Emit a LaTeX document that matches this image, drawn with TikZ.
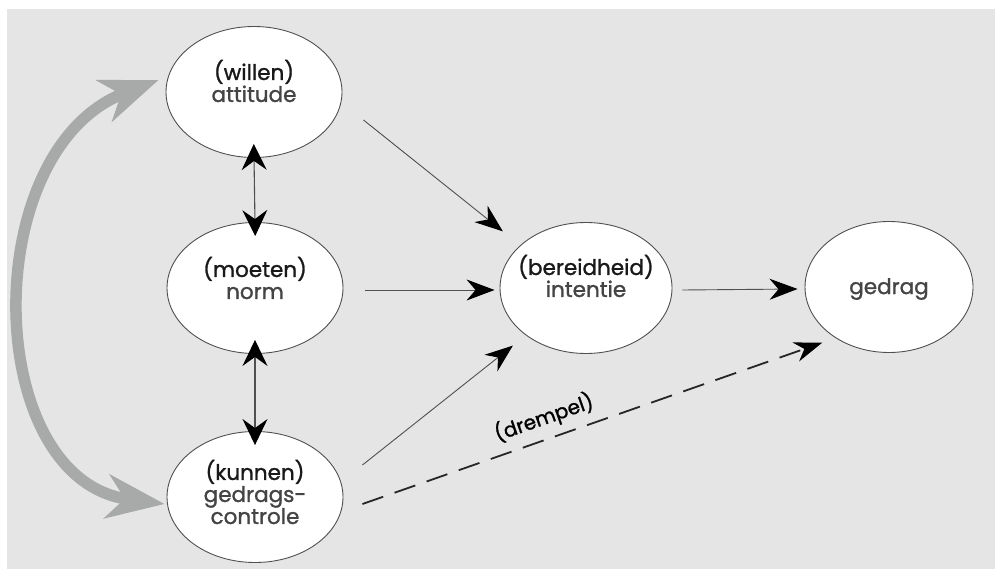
\documentclass[tikz,border=0pt]{standalone}
\usepackage{fontspec}
\setmainfont{Poppins}[FakeBold=1.2]
\usetikzlibrary{arrows.meta,shapes.geometric,calc}
\definecolor{bg}{HTML}{E4E5E4}
\definecolor{ln}{HTML}{505050}
\definecolor{sub}{HTML}{444444}
\definecolor{big}{HTML}{A8A9A9}
\begin{document}
\begin{tikzpicture}[x=1pt,y=-1pt,
  ell/.style={ellipse,draw=ln,line width=0.9pt,fill=white,minimum width=#1,minimum height=131pt,inner sep=0pt},
  ell/.default=176pt,
  lbl/.style={align=center,font=\fontsize{21.5}{22}\selectfont,text=black!90},
  conn/.style={draw=ln,line width=0.9pt,-{Stealth[length=28pt,width=21pt,inset=9pt,black]}},
  dbl/.style={draw=ln,line width=1.1pt,shorten <=-14pt,shorten >=-14pt,{Stealth[length=26pt,width=25pt,inset=9pt,black]}-{Stealth[length=26pt,width=25pt,inset=9pt,black]}},
  dsh/.style={draw=black!85,line width=1.8pt,dash pattern=on 22pt off 12pt,-{Stealth[length=28pt,width=20pt,inset=9pt,black]}},
  bigarr/.style={draw=big,line width=11.5pt,{Stealth[length=58pt,width=44pt,inset=18pt,big]}-{Stealth[length=58pt,width=44pt,inset=18pt,big]}}
]
\useasboundingbox (0,0) rectangle (995,569);
\fill[white] (0,0) rectangle (995,569);
\fill[bg] (7,9) rectangle (995,569);

\node[ell] (att) at (254,92) {};
\node[ell] (nrm) at (255,288) {};
\node[ell] (ctl) at (255,497) {};
\node[ell=172pt] (int) at (586,288) {};
\node[ell=168pt] (ged) at (889,287) {};

\node[lbl] (attT) at (254,81) {(willen)\\\textcolor{sub}{attitude}};
\node[lbl] (nrmT) at (255,278) {(moeten)\\\textcolor{sub}{norm}};
\node[lbl] (ctlT) at (255,492) {(kunnen)\\\textcolor{sub}{gedrags-}\\\textcolor{sub}{controle}};
\node[lbl] (intT) at (586,276) {(bereidheid)\\\textcolor{sub}{intentie}};
\node[lbl] (gedT) at (889,289) {\textcolor{sub}{gedrag}};

\draw[dbl] (att.south) -- (nrm.north);
\draw[dbl] (nrm.south) -- (ctl.north);

\draw[conn] ([xshift=21pt,yshift=-28pt]att.east) -- ([xshift=-22pt,yshift=10pt]int.north west);
\draw[conn] ([xshift=22pt,yshift=-2pt]nrm.east) -- ([xshift=-5pt,yshift=-2pt]int.west);
\draw[conn] ([xshift=19pt,yshift=32pt]ctl.east) -- ([xshift=-12pt,yshift=-11pt]int.south west);
\draw[conn] ([xshift=10pt,yshift=-2pt]int.east) -- ([xshift=-7pt,yshift=-2pt]ged.west);
\draw[dsh] ([xshift=19pt,yshift=-7pt]ctl.east) -- node[pos=0.41,above=5pt,sloped,font=\fontsize{20}{22}\selectfont] (drm) {(drempel)} ([xshift=-7pt,yshift=-9pt]ged.south west);

\draw[bigarr] ([xshift=-2pt,yshift=-7pt]ctl.west) .. controls (-18,480) and (-24,150) .. ([xshift=-7pt,yshift=12pt]att.west);
\end{tikzpicture}
\end{document}
